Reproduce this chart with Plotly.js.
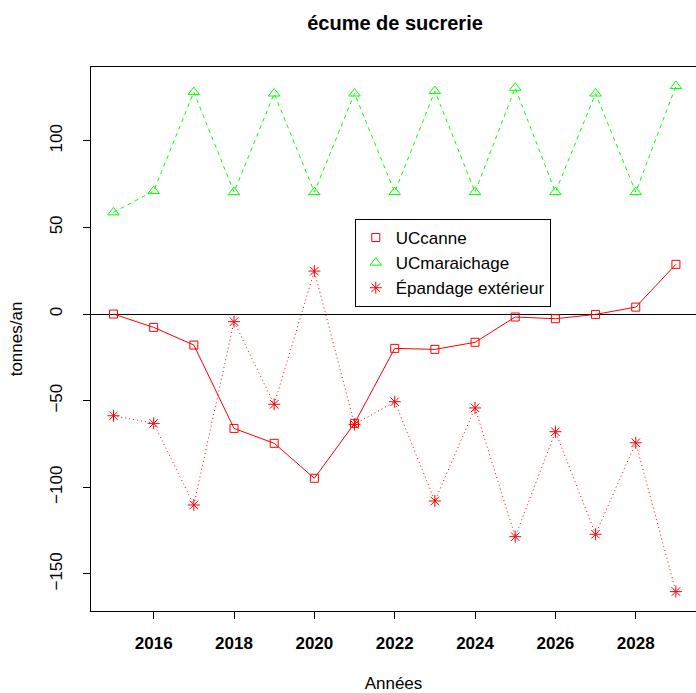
<!DOCTYPE html>
<html>
<head>
<meta charset="utf-8">
<script src="https://cdn.plot.ly/plotly-3.0.1.min.js"></script>
<style>html,body{margin:0;padding:0;background:#fff;}#chart{width:696px;height:693px;}</style>
</head>
<body>
<div id="chart"></div>
<script>
const years = [2015, 2016, 2017, 2018, 2019, 2020, 2021, 2022, 2023, 2024, 2025, 2026, 2027, 2028, 2029];
const ucCanne = [0, -7.7, -17.9, -66.0, -74.6, -94.8, -63.1, -19.8, -20.4, -16.3, -1.7, -2.7, -0.2, 4.0, 28.7];
const ucMaraichage = [58.7, 71.0, 128.1, 70.4, 127.3, 70.4, 127.3, 70.4, 128.7, 70.4, 130.6, 70.4, 127.3, 70.4, 131.6];
const epandage = [-58.7, -63.1, -110.2, -4.4, -52.1, 24.8, -63.7, -50.6, -107.9, -54.2, -128.5, -67.9, -127.1, -74.3, -160.2];
const seriesNames = ["UCcanne", "UCmaraichage", "Épandage extérieur"];
const xTicks = [2016, 2018, 2020, 2022, 2024, 2026, 2028];
const yTicks = [-150, -100, -50, 0, 50, 100];

const FONT = "Liberation Sans, Arial, Helvetica, sans-serif";
const RED = "#FF0000", GREEN = "#00FF00";

const traces = [
  {x: years, y: ucCanne, mode: "lines+markers", showlegend: false,
   line: {color: RED, width: 1},
   marker: {symbol: "square-open", size: 8, color: RED, line: {width: 1, color: RED}}},
  {x: years, y: ucMaraichage, mode: "lines+markers", showlegend: false,
   line: {color: GREEN, width: 1, dash: "4px,4px"},
   marker: {symbol: "triangle-up-open", size: 10, color: GREEN, line: {width: 1, color: GREEN}}},
  {x: years, y: epandage, mode: "lines+markers", showlegend: false,
   line: {color: RED, width: 1, dash: "1px,3px"},
   marker: {symbol: "asterisk-open", size: 10, color: RED, line: {width: 1, color: RED}}},
  // legend-only entries (markers only, as in the original legend)
  {x: [null], y: [null], mode: "markers", name: seriesNames[0],
   marker: {symbol: "square-open", size: 8, color: RED, line: {width: 1, color: RED}}},
  {x: [null], y: [null], mode: "markers", name: seriesNames[1],
   marker: {symbol: "triangle-up-open", size: 10, color: GREEN, line: {width: 1, color: GREEN}}},
  {x: [null], y: [null], mode: "markers", name: seriesNames[2],
   marker: {symbol: "asterisk-open", size: 10, color: RED, line: {width: 1, color: RED}}}
];

const layout = {
  width: 696, height: 693,
  margin: {l: 91, r: 0, t: 67, b: 82, pad: 0},
  paper_bgcolor: "#fff", plot_bgcolor: "#fff",
  font: {family: FONT, size: 17, color: "#000"},
  title: {text: "<b>écume de sucrerie</b>", font: {family: FONT, size: 20, color: "#000"},
          x: 0.5025, xref: "paper", xanchor: "center", y: 0.967, yref: "container", yanchor: "middle"},
  showlegend: true,
  legend: {x: 0.436, y: 0.7206, xanchor: "left", yanchor: "top",
           bgcolor: "#fff", bordercolor: "#000", borderwidth: 1,
           font: {family: FONT, size: 17, color: "#000"}, tracegroupgap: 0},
  xaxis: {
    range: [2014.44, 2029.50], autorange: false,
    tickmode: "array", tickvals: xTicks, ticktext: xTicks.map(v => "<b>" + v + "</b>"),
    ticks: "outside", ticklen: 7, tickwidth: 1, tickcolor: "#000",
    showline: true, linecolor: "#000", linewidth: 1, mirror: true,
    showgrid: false, zeroline: false,
    tickfont: {family: FONT, size: 17, color: "#000"},
    ticklabelstandoff: 10,
    title: {text: "Années", font: {family: FONT, size: 17, color: "#000"}, standoff: 28},
    automargin: false
  },
  yaxis: {
    range: [-171.4, 142.6], autorange: false,
    tickmode: "array", tickvals: yTicks, ticktext: yTicks.map(v => v < 0 ? "\u2212" + Math.abs(v) : String(v)),
    tickangle: -90,
    ticks: "outside", ticklen: 7, tickwidth: 1, tickcolor: "#000",
    showline: true, linecolor: "#000", linewidth: 1, mirror: false,
    showgrid: false,
    zeroline: true, zerolinecolor: "#000", zerolinewidth: 1,
    tickfont: {family: FONT, size: 17, color: "#000"},
    ticklabelstandoff: 14,
    title: {text: "tonnes/an", font: {family: FONT, size: 17, color: "#000"}, standoff: 20},
    automargin: false
  }
};

Plotly.newPlot("chart", traces, layout, {staticPlot: true, displayModeBar: false});
</script>
</body>
</html>
